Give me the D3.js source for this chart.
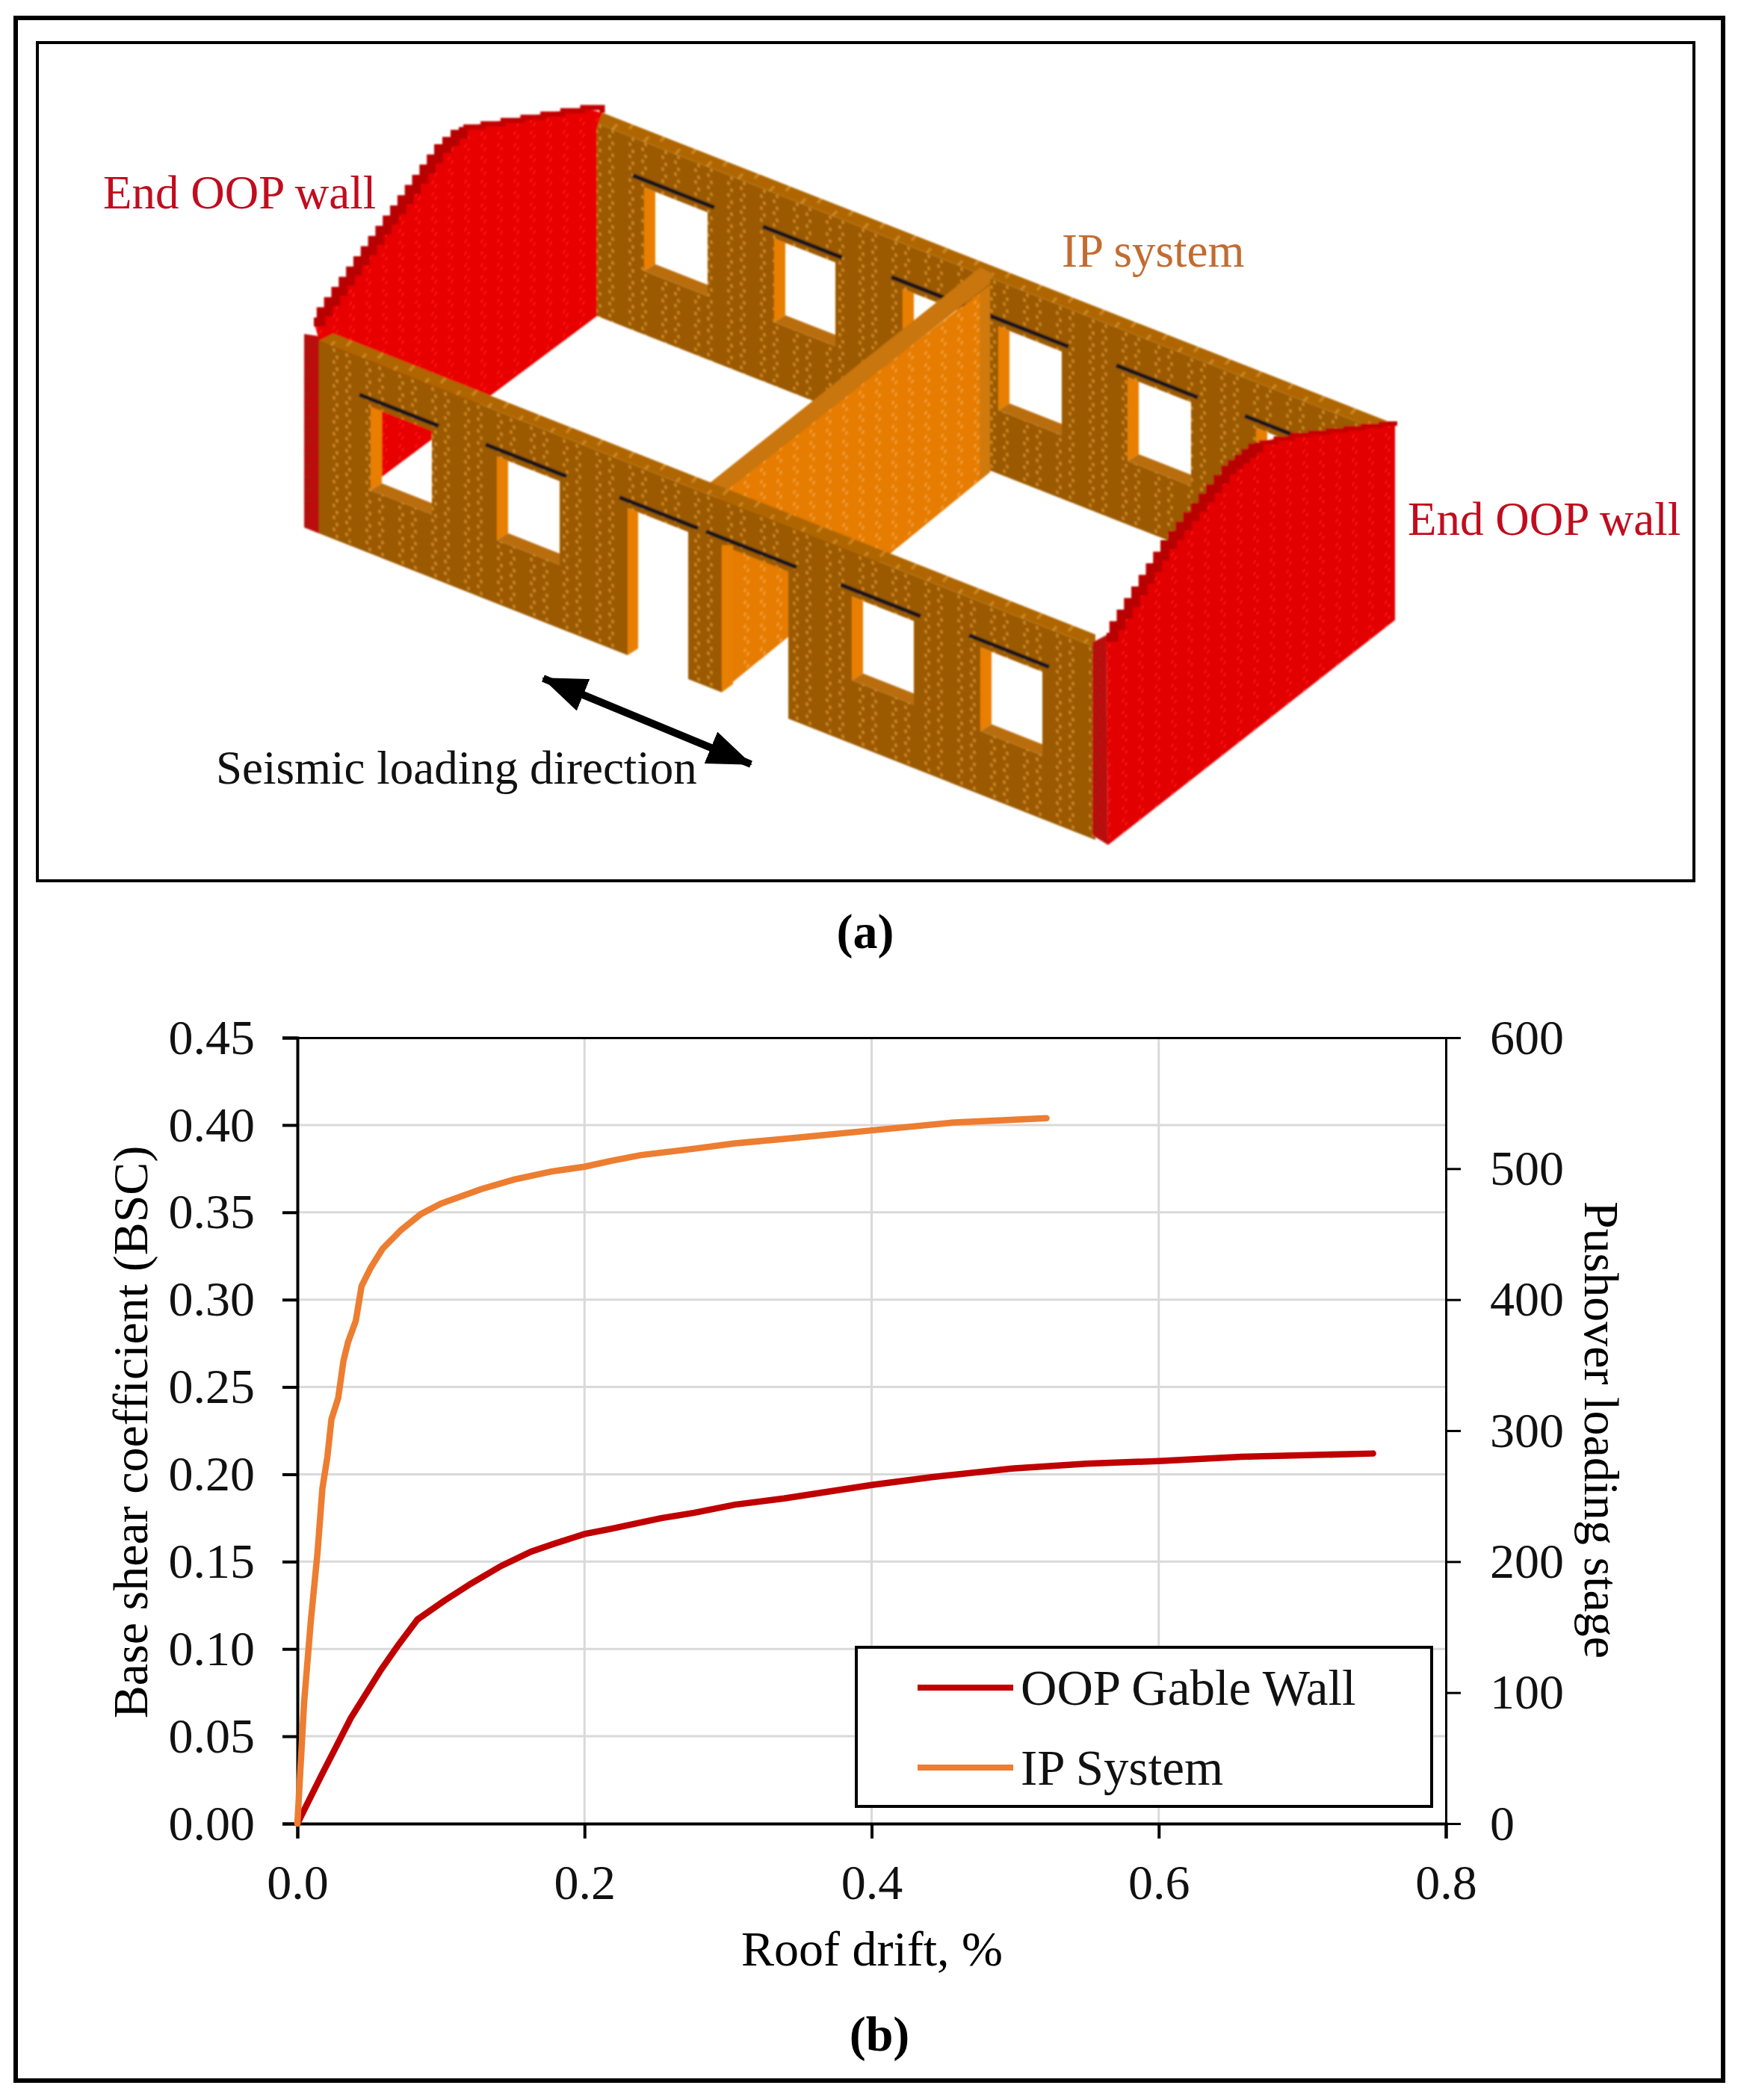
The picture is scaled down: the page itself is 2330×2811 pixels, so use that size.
<!DOCTYPE html>
<html>
<head>
<meta charset="utf-8">
<script src="https://cdn.jsdelivr.net/npm/d3@7"></script>
<style>
body { margin: 0; background: #fff; }
text { font-family: "Liberation Serif", serif; }
</style>
</head>
<body>
<svg id="fig" width="2330" height="2811"></svg>
<script>
// chart data
var oopDrift = [0, 0.0163, 0.0372, 0.0581, 0.0698, 0.0837, 0.1023, 0.1209, 0.1419, 0.1628, 0.1791, 0.2, 0.2186, 0.2535, 0.2767, 0.3047, 0.339, 0.4, 0.4419, 0.4978, 0.5497, 0.6, 0.6575, 0.7493];
var oopBSC = [0, 0.0269, 0.0604, 0.0879, 0.1017, 0.1169, 0.1276, 0.1374, 0.1475, 0.1557, 0.1603, 0.1658, 0.1688, 0.1749, 0.178, 0.1826, 0.1862, 0.1939, 0.1984, 0.2033, 0.2061, 0.2076, 0.21, 0.2119];
var ipDrift = [0, 0.0047, 0.0093, 0.014, 0.0174, 0.0209, 0.0237, 0.0284, 0.0321, 0.0353, 0.0407, 0.0447, 0.0512, 0.0593, 0.0721, 0.086, 0.1, 0.128, 0.151, 0.177, 0.2, 0.2186, 0.2395, 0.2744, 0.3047, 0.339, 0.4, 0.4579, 0.5218];
var ipBSC = [0, 0.0696, 0.1154, 0.155, 0.1917, 0.21, 0.2314, 0.2436, 0.265, 0.2757, 0.2879, 0.3077, 0.3184, 0.3291, 0.3398, 0.349, 0.355, 0.3633, 0.3688, 0.3734, 0.3761, 0.3795, 0.3828, 0.3862, 0.3895, 0.392, 0.3969, 0.4015, 0.4039];
var bscTicks = [0, 0.05, 0.10, 0.15, 0.20, 0.25, 0.30, 0.35, 0.40, 0.45];
var stageTicks = [0, 100, 200, 300, 400, 500, 600];
var driftTicks = [0, 0.2, 0.4, 0.6, 0.8];
var seriesNames = ["OOP Gable Wall", "IP System"];
var seriesColors = ["#c00000", "#ed7d31"];

var svg = d3.select("#fig");
var FS = 66;

// frames
svg.append("rect").attr("x", 21).attr("y", 24).attr("width", 2285).attr("height", 2761)
	.attr("fill", "none").attr("stroke", "#000").attr("stroke-width", 6);
svg.append("rect").attr("x", 50).attr("y", 57).attr("width", 2217).attr("height", 1122)
	.attr("fill", "none").attr("stroke", "#000").attr("stroke-width", 4);

/* ---------- panel (a): the house, drawn wall by wall ---------- */
var defs = svg.append("defs");
var SLOPE = 0.395, SLOPE2 = -0.784;

function brickPattern(id, base, dot, slope, w)
{
	var p = defs.append("pattern").attr("id", id).attr("patternUnits", "userSpaceOnUse")
		.attr("width", w).attr("height", 16)
		.attr("patternTransform", "matrix(1," + slope + ",0,1,0,0)");
	p.append("rect").attr("width", w).attr("height", 16).attr("fill", base);
	[[7, 4], [11, 12], [24, 4], [28, 12]].forEach(function(d) {
		p.append("ellipse").attr("cx", d[0]).attr("cy", d[1]).attr("rx", 1.8).attr("ry", 2.6).attr("fill", dot);
	});
}
brickPattern("brown", "#9c5a06", "#d08a24", SLOPE, 44);
brickPattern("red", "#e30000", "#f31212", SLOPE2, 22);
brickPattern("redBack", "#e80000", "#f71010", -0.746, 22);
brickPattern("orange", "#e67c04", "#f29c30", SLOPE2, 22);
brickPattern("darkred", "#bc0a0a", "#96240c", SLOPE, 20);

// wall top with the joints between blocks showing
var topPattern = defs.append("pattern").attr("id", "wallTop").attr("patternUnits", "userSpaceOnUse")
	.attr("width", 42).attr("height", 40)
	.attr("patternTransform", "matrix(1," + SLOPE + ",0,1,0,0)");
topPattern.append("rect").attr("width", 42).attr("height", 40).attr("fill", "#b06606");
topPattern.append("path").attr("d", "M2,40L28,0").attr("stroke", "#d08a24").attr("stroke-width", 2.5);

var blur = defs.append("filter").attr("id", "soft").attr("x", "-5%").attr("y", "-5%").attr("width", "110%").attr("height", "110%");
blur.append("feGaussianBlur").attr("stdDeviation", 0.8);

var poly = function(pts) { return d3.line()(pts) + "Z"; };
// screen x + height above the wall's floor line
var front = function(x, h) { return [x, 706 + SLOPE * (x - 407) - h]; };
var back = function(x, h) { return [x, 423 + 0.393 * (x - 799) - h]; };

var HEAD = 197, SILL_IN = 100, SILL_OUT = 85, FACE_TOP = 258, WALL_TOP = 275;
var backWindows = [[877, 947], [1051, 1118], [1223, 1293], [1351, 1421], [1524, 1594], [1696, 1766]];
var frontWindows = [[511, 578], [680, 749], [1155, 1223], [1327, 1395]];
var frontDoors = [[840, 921], [966, 1055]];

var house = svg.append("g").attr("filter", "url(#soft)");

function drawOpening(wall, o, head)
{
	var x0 = o[0], x1 = o[1];
	house.append("path").attr("fill", "#e97f06").attr("d", poly([wall(x0 - 15, SILL_OUT), wall(x0, SILL_IN), wall(x0, head), wall(x0 - 15, head)]));
	house.append("path").attr("fill", "#b96d08").attr("d", poly([wall(x0 - 15, SILL_OUT), wall(x1, SILL_OUT), wall(x1, SILL_IN), wall(x0, SILL_IN)]));
	house.append("path").attr("d", d3.line()([wall(x0 - 30, head + 10), wall(x1 + 9, head + 10)]))
		.attr("stroke", "#14181c").attr("stroke-width", 5.5).attr("fill", "none");
}

function holes(wall, list, head)
{
	return list.map(function(o) {
		return poly([wall(o[0] - 15, SILL_OUT), wall(o[1], SILL_OUT), wall(o[1], head), wall(o[0] - 15, head)]);
	}).join("");
}

// back wall, stops short of the corner where the near gable hides it
var backOutline = poly([back(799, 0), back(1840, 0), back(1840, FACE_TOP), back(799, FACE_TOP)]);
house.append("path").attr("fill", "url(#brown)").attr("fill-rule", "evenodd").attr("d", backOutline + holes(back, backWindows, HEAD));
house.append("path").attr("fill", "url(#wallTop)").attr("d", poly([back(799, FACE_TOP), back(1867, FACE_TOP), back(1867, WALL_TOP), back(806, WALL_TOP)]));
backWindows.forEach(function(o) { drawOpening(back, o, HEAD); });

// far gable wall
var farEdge = [[420, 431], [587, 199], [620, 170], [780, 144], [806, 151]];
house.append("path").attr("fill", "url(#redBack)").attr("d", poly(farEdge.concat([[799, 170], [799, 423], [427, 701], [427, 455]])));

function stepped(pts, step)
{
	var out = [];
	for (var i = 0; i < pts.length - 1; i++)
	{
		var a = pts[i], b = pts[i + 1];
		var n = Math.max(1, Math.round(Math.abs(b[0] - a[0]) / step));
		for (var k = 0; k < n; k++)
		{
			out.push([a[0] + (b[0] - a[0]) * k / n, a[1] + (b[1] - a[1]) * k / n]);
		}
	}
	out.push(pts[pts.length - 1]);
	return d3.line().curve(d3.curveStepAfter)(out);
}
house.append("path").attr("d", stepped(farEdge.slice(0, 3), 10)).attr("fill", "none").attr("stroke", "#b80000").attr("stroke-width", 12);
house.append("path").attr("d", stepped(farEdge.slice(2), 26)).attr("fill", "none").attr("stroke", "#c20000").attr("stroke-width", 7);

// partition wall
house.append("path").attr("fill", "url(#orange)").attr("d", poly([[1325, 382], [1325, 632], [966, 925], [960, 660]]));
house.append("path").attr("fill", "#c8760a").attr("d", poly([[1312, 358], [1328, 366], [1325, 380], [968, 660], [948, 648]]));
house.append("path").attr("fill", "#d07a0a").attr("d", poly([[1311, 392], [1325, 382], [1325, 632], [1311, 643]]));

// front wall, with the two door gaps cut from the outline
var d1 = frontDoors[0], d2 = frontDoors[1];
var frontOutline = poly([
	front(427, 0), front(d1[0], 0), front(d1[0], HEAD), front(d1[1], HEAD), front(d1[1], 0),
	front(d2[0], 0), front(d2[0], HEAD), front(d2[1], HEAD), front(d2[1], 0),
	front(1466, 0), front(1466, FACE_TOP), front(427, FACE_TOP)]);
house.append("path").attr("fill", "url(#brown)").attr("fill-rule", "evenodd").attr("d", frontOutline + holes(front, frontWindows, HEAD));
house.append("path").attr("fill", "url(#wallTop)").attr("d", poly([front(427, FACE_TOP), front(1466, FACE_TOP), front(1466, WALL_TOP), front(446, WALL_TOP)]));
frontWindows.forEach(function(o) { drawOpening(front, o, HEAD); });

// door jambs and lintels
house.append("path").attr("fill", "#e97f06").attr("d", poly([front(d1[0], 0), [d1[0] + 14, front(d1[0], 0)[1] - 9], front(d1[0] + 14, HEAD), front(d1[0], HEAD)]));
house.append("path").attr("fill", "#e97f06").attr("d", poly([front(d2[0], 0), [d2[0] + 15, front(d2[0], 0)[1] - 11], [d2[0] + 15, front(d2[0], HEAD)[1]], front(d2[0], HEAD)]));
frontDoors.forEach(function(o, i) {
	house.append("path").attr("d", d3.line()([front(o[0] - 10 * (i + 1) + 1 - 2, HEAD + 10), front(o[1] + 13 + i * -2, HEAD + 10)]))
		.attr("stroke", "#14181c").attr("stroke-width", 5.5).attr("fill", "none");
});

// wall ends
house.append("path").attr("fill", "url(#darkred)").attr("d", poly([[407, 447], [427, 450], [427, 714], [407, 706]]));
house.append("path").attr("fill", "url(#darkred)").attr("d", poly([[1462, 860], [1481, 850], [1483, 1131], [1462, 1118]]));

// near gable wall
var nearEdge = [[1481, 853], [1559, 729], [1640, 629], [1685, 592], [1730, 582], [1848, 567], [1867, 570]];
house.append("path").attr("fill", "url(#red)").attr("d", poly(nearEdge.concat([[1867, 830], [1483, 1131]])));
house.append("path").attr("d", stepped(nearEdge.slice(0, 4), 10)).attr("fill", "none").attr("stroke", "#b80000").attr("stroke-width", 12);
house.append("path").attr("d", stepped(nearEdge.slice(3), 26)).attr("fill", "none").attr("stroke", "#c40000").attr("stroke-width", 6);

// loading direction arrow
var marker = defs.append("marker").attr("id", "head").attr("viewBox", "0 0 60 46").attr("refX", 58).attr("refY", 23)
	.attr("markerWidth", 60).attr("markerHeight", 46).attr("markerUnits", "userSpaceOnUse").attr("orient", "auto-start-reverse");
marker.append("path").attr("d", "M0,0L60,23L0,46Z").attr("fill", "#000");
svg.append("line").attr("x1", 727).attr("y1", 908).attr("x2", 1005).attr("y2", 1023)
	.attr("stroke", "#000").attr("stroke-width", 10)
	.attr("marker-start", "url(#head)").attr("marker-end", "url(#head)");

var notes = [
	["End OOP wall", 138, 279, "#c00d1e"],
	["End OOP wall", 1884, 716, "#c00d1e"],
	["IP system", 1421, 357, "#c26c32"],
	["Seismic loading direction", 289, 1049, "#111"]
];
svg.selectAll("text.note").data(notes).enter().append("text").attr("class", "note")
	.attr("x", function(d) { return d[1]; }).attr("y", function(d) { return d[2]; })
	.attr("fill", function(d) { return d[3]; }).attr("font-size", 63)
	.text(function(d) { return d[0]; });

svg.append("text").attr("x", 1158).attr("y", 1269).attr("text-anchor", "middle").attr("font-size", FS).attr("font-weight", "bold").text("(a)");
svg.append("text").attr("x", 1177).attr("y", 2745).attr("text-anchor", "middle").attr("font-size", FS).attr("font-weight", "bold").text("(b)");

/* ---------- panel (b): pushover curves ---------- */
var left = 398, right = 1935, top_ = 1389, bottom = 2441;
var x = d3.scaleLinear().domain([0, 0.8]).range([left, right]);
var y = d3.scaleLinear().domain([0, 0.45]).range([bottom, top_]);
var yStage = d3.scaleLinear().domain([0, 600]).range([bottom, top_]);

// grid
svg.append("g").selectAll("line").data(bscTicks.slice(1, -1)).enter().append("line")
	.attr("x1", left).attr("x2", right).attr("y1", y).attr("y2", y)
	.attr("stroke", "#d9d9d9").attr("stroke-width", 3);
svg.append("g").selectAll("line").data(driftTicks.slice(1, -1)).enter().append("line")
	.attr("x1", x).attr("x2", x).attr("y1", top_).attr("y2", bottom)
	.attr("stroke", "#d9d9d9").attr("stroke-width", 3);

var styleAxis = function(g, w) {
	g.selectAll(".domain").attr("stroke", "#000").attr("stroke-width", w);
	g.selectAll(".tick line").attr("stroke", "#000").attr("stroke-width", w);
	g.selectAll("text").attr("font-size", FS).attr("font-family", "Liberation Serif").attr("fill", "#111");
};

svg.append("g").attr("transform", "translate(0," + top_ + ")")
	.call(d3.axisTop(x).tickValues([]).tickSizeOuter(0))
	.call(styleAxis, 3);
svg.append("g").attr("transform", "translate(" + left + ",0)")
	.call(d3.axisLeft(y).tickValues(bscTicks).tickSize(20).tickPadding(37).tickFormat(d3.format(".2f")))
	.call(styleAxis, 4);
svg.append("g").attr("transform", "translate(" + right + ",0)")
	.call(d3.axisRight(yStage).tickValues(stageTicks).tickSize(20).tickPadding(39))
	.call(styleAxis, 3);
svg.append("g").attr("transform", "translate(0," + bottom + ")")
	.call(d3.axisBottom(x).tickValues(driftTicks).tickSize(20).tickPadding(34).tickFormat(d3.format(".1f")))
	.call(styleAxis, 4);

// curves
var line = d3.line().x(function(d) { return x(d[0]); }).y(function(d) { return y(d[1]); });
[d3.zip(oopDrift, oopBSC), d3.zip(ipDrift, ipBSC)].forEach(function(s, i) {
	svg.append("path").attr("d", line(s)).attr("fill", "none")
		.attr("stroke", seriesColors[i]).attr("stroke-width", 8.5).attr("stroke-linecap", "round");
});

// titles
svg.append("text").attr("x", 1167).attr("y", 2631).attr("text-anchor", "middle").attr("font-size", FS).text("Roof drift, %");
svg.append("text").attr("transform", "translate(197,1917) rotate(-90)").attr("text-anchor", "middle").attr("font-size", FS).text("Base shear coefficient (BSC)");
svg.append("text").attr("transform", "translate(2121,1914) rotate(90)").attr("text-anchor", "middle").attr("font-size", FS).text("Pushover loading stage");

// legend
var legend = svg.append("g");
legend.append("rect").attr("x", 1146).attr("y", 2205).attr("width", 770).attr("height", 213)
	.attr("fill", "#fff").attr("stroke", "#000").attr("stroke-width", 4);
var rows = legend.selectAll("g").data(seriesNames).enter().append("g")
	.attr("transform", function(d, i) { return "translate(0," + (2259 + i * 107) + ")"; });
rows.append("line").attr("x1", 1228).attr("x2", 1356)
	.attr("stroke", function(d, i) { return seriesColors[i]; }).attr("stroke-width", 8);
rows.append("text").attr("x", 1366).attr("y", 23).attr("font-size", 67).attr("fill", "#111").text(function(d) { return d; });
</script>
</body>
</html>
